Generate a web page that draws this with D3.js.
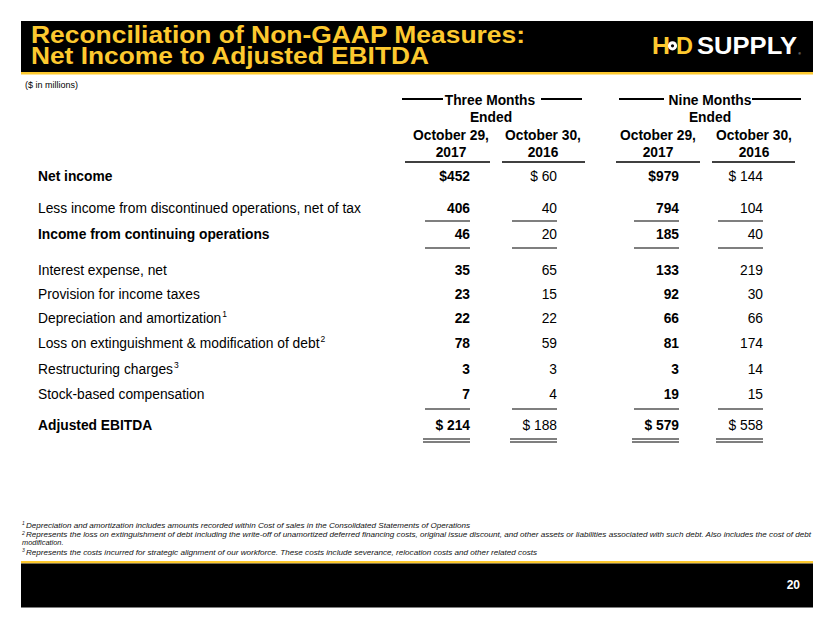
<!DOCTYPE html>
<html><head><meta charset="utf-8">
<script src="https://cdn.jsdelivr.net/npm/d3@7"></script>
<style>
html,body{margin:0;padding:0;background:#fff;}
svg text{font-family:"Liberation Sans",Arial,sans-serif;}
</style></head>
<body><svg id="c" width="830" height="623"></svg>
<script>
// ---------- data ----------
const titleLines = ["Reconciliation of Non-GAAP Measures:", "Net Income to Adjusted EBITDA"];
const unitNote = "($ in millions)";
const groupHeaders = ["Three Months", "Nine Months"];
const columnHeaders = [["October 29,", "2017"], ["October 30,", "2016"], ["October 29,", "2017"], ["October 30,", "2016"]];
const rowLabels = ["Net income", "Less income from discontinued operations, net of tax", "Income from continuing operations",
  "Interest expense, net", "Provision for income taxes", "Depreciation and amortization", "Loss on extinguishment & modification of debt",
  "Restructuring charges", "Stock-based compensation", "Adjusted EBITDA"];
const rowSuperscripts = ["", "", "", "", "", "1", "2", "3", "", ""];
const rowBold = [true, false, true, false, false, false, false, false, false, true];
const threeMonths2017 = [452, 406, 46, 35, 23, 22, 78, 3, 7, 214];
const threeMonths2016 = [60, 40, 20, 65, 15, 22, 59, 3, 4, 188];
const nineMonths2017 = [979, 794, 185, 133, 92, 66, 81, 3, 19, 579];
const nineMonths2016 = [144, 104, 40, 219, 30, 66, 174, 14, 15, 558];
const footnotes = [
  ["1", "Depreciation and amortization includes amounts recorded within Cost of sales in the Consolidated Statements of Operations"],
  ["2", "Represents the loss on extinguishment of debt including the write-off of unamortized deferred financing costs, original issue discount, and other assets or liabilities associated with such debt. Also includes the cost of debt"],
  ["", "modification."],
  ["3", "Represents the costs incurred for strategic alignment of our workforce. These costs include severance, relocation costs and other related costs"]
];
const pageNumber = "20";

// ---------- layout ----------
const gold = "#FDC92F";
const svg = d3.select("#c");
const FS = 13.8;

// header bar
svg.append("rect").attr("x", 21).attr("y", 21).attr("width", 792).attr("height", 52).attr("fill", "#000");
svg.append("rect").attr("x", 21).attr("y", 72).attr("width", 792).attr("height", 2.5).attr("fill", gold);
const title = svg.append("text").attr("fill", gold).attr("font-size", 24).attr("font-weight", "bold");
const tl = [[43, 494], [63.5, 398]];
titleLines.forEach((t, i) => {
  title.append("tspan").attr("x", 31).attr("y", tl[i][0])
    .attr("textLength", tl[i][1]).attr("lengthAdjust", "spacingAndGlyphs").text(t);
});
// logo
const logo = svg.append("g");
logo.append("text").attr("x", 652).attr("y", 54).attr("fill", gold).attr("font-family", "DejaVu Sans")
  .attr("font-weight", "bold").attr("font-size", 23).attr("textLength", 18).attr("lengthAdjust", "spacingAndGlyphs").text("H");
logo.append("text").attr("x", 676).attr("y", 54).attr("fill", gold).attr("font-family", "DejaVu Sans")
  .attr("font-weight", "bold").attr("font-size", 23).attr("textLength", 17).attr("lengthAdjust", "spacingAndGlyphs").text("D");
logo.append("circle").attr("cx", 672.5).attr("cy", 45.8).attr("r", 4.6).attr("fill", "#fff");
logo.append("circle").attr("cx", 672.5).attr("cy", 45.8).attr("r", 1.6).attr("fill", "#000");
logo.append("text").attr("x", 697).attr("y", 54).attr("fill", "#fff").attr("font-family", "DejaVu Sans")
  .attr("font-weight", "bold").attr("font-size", 23).attr("textLength", 100).attr("lengthAdjust", "spacingAndGlyphs").text("SUPPLY");
logo.append("text").attr("x", 798.5).attr("y", 55).attr("fill", "#fff").attr("font-size", 3).text("®");

svg.append("text").attr("x", 25).attr("y", 87.5).attr("font-size", 9).attr("fill", "#000").text(unitNote);

// ---------- table scales ----------
const colKeys = ["t17", "t16", "n17", "n16"];
const colData = [threeMonths2017, threeMonths2016, nineMonths2017, nineMonths2016];
const xRight = d3.scaleOrdinal().domain(colKeys).range([470, 557, 679, 763]);
const xCenter = d3.scaleOrdinal().domain(colKeys).range([451, 543, 658, 754]);
const rowSlots = [0, 1.28, 2.32, 3.76, 4.72, 5.68, 6.68, 7.72, 8.72, 9.96];
const y = d3.scaleLinear().domain([0, 9.96]).range([176, 425]);

// group headers
const groupCenters = [490, 710];
const endedCenters = [491, 710];
const groupLineL = [[402, 443], [619, 664]];
const groupLineR = [[541, 582], [752, 801]];
groupHeaders.forEach((g, i) => {
  svg.append("text").attr("x", groupCenters[i]).attr("y", 104.5).attr("text-anchor", "middle")
    .attr("font-size", FS).attr("font-weight", "bold").text(g);
  svg.append("text").attr("x", endedCenters[i]).attr("y", 121.5).attr("text-anchor", "middle")
    .attr("font-size", FS).attr("font-weight", "bold").text("Ended");
  [groupLineL[i], groupLineR[i]].forEach(l => {
    svg.append("line").attr("x1", l[0]).attr("x2", l[1]).attr("y1", 99).attr("y2", 99)
      .attr("stroke", "#000").attr("stroke-width", 2.2);
  });
});
// column headers
const hdrLine = [[405, 490], [502, 585], [616, 700], [712, 795]];
columnHeaders.forEach((h, i) => {
  const k = colKeys[i];
  svg.append("text").attr("x", xCenter(k)).attr("y", 140).attr("text-anchor", "middle")
    .attr("font-size", FS).attr("font-weight", "bold").text(h[0]);
  svg.append("text").attr("x", xCenter(k)).attr("y", 157).attr("text-anchor", "middle")
    .attr("font-size", FS).attr("font-weight", "bold").text(h[1]);
  svg.append("line").attr("x1", hdrLine[i][0]).attr("x2", hdrLine[i][1]).attr("y1", 162).attr("y2", 162)
    .attr("stroke", "#000").attr("stroke-width", 1.6);
});

// row labels
rowLabels.forEach((lab, i) => {
  const t = svg.append("text").attr("x", 38).attr("y", y(rowSlots[i])).attr("dy", "0.36em")
    .attr("font-size", FS).attr("font-weight", rowBold[i] ? "bold" : "normal").text(lab);
  if (rowSuperscripts[i]) t.append("tspan").attr("font-size", 8.5).attr("dy", "-0.75em").attr("dx", 1).text(rowSuperscripts[i]);
});

// values
const n_last = rowLabels.length - 1;
const fmt = (v, i, c) => {
  if (i === 0) return (c % 2 === 0 ? "$" : "$ ") + v;
  if (i === n_last) return "$ " + v;
  return String(v);
};
colData.forEach((arr, c) => {
  const k = colKeys[c];
  const bold = c % 2 === 0;
  svg.append("g").selectAll("text").data(arr).join("text")
    .attr("x", xRight(k)).attr("y", (d, i) => y(rowSlots[i])).attr("dy", "0.36em")
    .attr("text-anchor", "end").attr("font-size", FS).attr("font-weight", bold ? "bold" : "normal")
    .attr("fill", "#000")
    .text((d, i) => fmt(d, i, c));
});

// underlines: single under rows 1, 2, 8 ; double under last row
const ulW = 45;
const ulRows = [[1, 13], [2, 14], [8, 15]];
colKeys.forEach((k, c) => {
  ulRows.forEach(([r, off]) => {
    svg.append("line").attr("x1", xRight(k) - ulW).attr("x2", xRight(k)).attr("y1", y(rowSlots[r]) + off).attr("y2", y(rowSlots[r]) + off)
      .attr("stroke", "#000").attr("stroke-width", 1.2);
  });
  [14, 17].forEach(off => {
    svg.append("line").attr("x1", xRight(k) - ulW - 2).attr("x2", xRight(k)).attr("y1", y(rowSlots[n_last]) + off).attr("y2", y(rowSlots[n_last]) + off)
      .attr("stroke", "#000").attr("stroke-width", 1.2);
  });
});

// footnotes
const fnY = [527.5, 537, 545, 554.5];
const fnLen = [448, 789, 0, 515];
footnotes.forEach((f, i) => {
  const t = svg.append("text").attr("y", fnY[i]).attr("font-size", 7.4).attr("font-style", "italic").attr("fill", "#111");
  if (f[0]) {
    t.append("tspan").attr("x", 22).attr("font-size", 5).attr("dy", -2.4).text(f[0]);
    const s = t.append("tspan").attr("x", 26).attr("dy", 2.4).text(f[1]);
    if (fnLen[i]) s.attr("textLength", fnLen[i] - 4).attr("lengthAdjust", "spacingAndGlyphs");
  } else {
    t.append("tspan").attr("x", 22).text(f[1]);
  }
});

// footer bar
svg.append("rect").attr("x", 21).attr("y", 561).attr("width", 792).attr("height", 2.5).attr("fill", gold);
svg.append("rect").attr("x", 21).attr("y", 563.5).attr("width", 792).attr("height", 44).attr("fill", "#000");
svg.append("text").attr("x", 800).attr("y", 589).attr("text-anchor", "end").attr("fill", "#fff")
  .attr("font-size", 12).attr("font-weight", "bold").text(pageNumber);
</script></body></html>
